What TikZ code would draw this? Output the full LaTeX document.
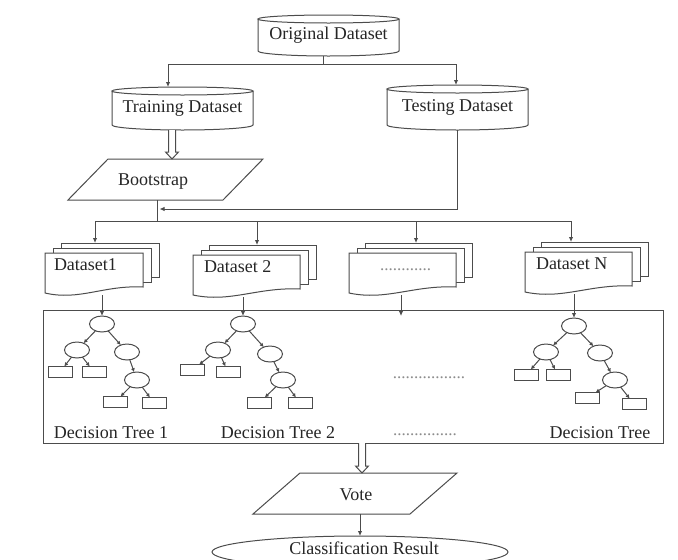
\documentclass[tikz,border=0pt]{standalone}
\usepackage{fontspec}
\setmainfont{Liberation Serif}
\usetikzlibrary{calc,arrows.meta,shapes.geometric}
\newcommand\dbdraw[2]{%
  \draw[line]
    ($(#1.north)+(0,4)$) ellipse [x radius=#2, y radius=4]
    ($(#1.north west)+(0,4)$) -- ($(#1.south west)+(0,-5)$)
    arc[start angle=180, end angle=0, x radius=#2, y radius=5]
    -- ($(#1.north east)+(0,4)$);}
\newcommand\parallelo[2]{%
  \draw[line, fill=white] ($(#1.north west)+(#2,0)$) -- (#1.north east)
    -- ($(#1.south east)+(-#2,0)$) -- (#1.south west) -- cycle;}
\newcommand\docstack[1]{%
  \foreach \k in {2,1} {%
    \draw[line, fill=white] ($(#1.north west)+(8*\k,-5*\k)$) rectangle ($(#1.south east)+(8*\k,-8-5*\k)$);}
  \draw[line, fill=white] (#1.north west) -- (#1.north east) -- ($(#1.south east)+(0,-8)$)
    .. controls ($(#1.south west)!0.6!(#1.south east)+(0,-10)$) and ($(#1.south west)!0.35!(#1.south east)+(0,6)$)
    .. ($(#1.south west)+(0,-2)$) -- cycle;}
\newcommand\hollowarrow[2]{%
  \draw[line, fill=white] let \p1=#1, \p2=#2 in
    (\x1-3.5pt,\y1) -- (\x1-3.5pt,\y2+7pt) -- (\x1-6.5pt,\y2+7pt) -- (\x1,\y2)
    -- (\x1+6.5pt,\y2+7pt) -- (\x1+3.5pt,\y2+7pt) -- (\x1+3.5pt,\y1);}
\begin{document}
\begin{tikzpicture}[x=1pt,y=-1pt,
  line/.style={draw=black!70, line width=1pt},
  arr/.style={line, -{Latex[length=5pt,width=4.5pt]}},
  tarr/.style={line, -{Latex[length=4pt,width=4pt]}},
  lbl/.style={font=\fontsize{18}{21}\selectfont, text=black!85, inner sep=0pt, outer sep=0pt},
  dotlbl/.style={font=\fontsize{17}{20}\selectfont, text=black!45, inner sep=0pt},
  shp/.style={inner sep=0pt, outer sep=0pt},
  tnode/.style={ellipse, line, fill=white, minimum width=25pt, minimum height=16pt, inner sep=0pt, outer sep=0pt},
  leaf/.style={rectangle, line, fill=white, minimum width=24pt, minimum height=11pt, inner sep=0pt, outer sep=0pt}]
\fill[white] (0,0) rectangle (678,560);
\clip (0,0) rectangle (678,560);
\useasboundingbox (0,0) rectangle (678,560);

% cylinders
\node[shp, lbl, minimum width=141pt, minimum height=41pt] (orig) at (328.5,35.5) {Original Dataset};
\dbdraw{orig}{70.5}
\node[shp, lbl, minimum width=141pt, minimum height=43pt] (train) at (182.5,108.5) {Training Dataset};
\dbdraw{train}{70.5}
\node[shp, lbl, minimum width=141pt, minimum height=45pt] (test) at (457.5,107.5) {Testing Dataset};
\dbdraw{test}{70.5}

% bootstrap
\node[shp, minimum width=195pt, minimum height=41pt] (boot) at (165.5,179.5) {};
\parallelo{boot}{40}
\node[lbl] (bootlbl) at (153,182) {Bootstrap};

% top connectors
\coordinate (split) at (323,64);
\coordinate (bl) at (168,64);
\coordinate (br) at (456,64);
\draw[line] (split |- orig.south) -- (split);
\draw[line] (bl) -- (br);
\draw[arr] (bl) -- (bl |- train.north);
\draw[arr] (br) -- (br |- test.north);
\hollowarrow{($(train.south)+(-10.5,0)$)}{(boot.north)}

% datasets
\node[shp, minimum width=98pt, minimum height=42pt] (ds1) at (94,274) {};
\node[shp, minimum width=107pt, minimum height=42pt] (ds2) at (246.5,276) {};
\node[shp, minimum width=107pt, minimum height=42pt] (ds3) at (402.5,274) {};
\node[shp, minimum width=107pt, minimum height=42pt] (dsn) at (578.5,273) {};
\docstack{ds1}
\docstack{ds2}
\docstack{ds3}
\docstack{dsn}
\node[lbl, anchor=west] (ds1lbl) at (54,265) {Dataset1};
\node[lbl, anchor=west] (ds2lbl) at (204,267) {Dataset 2};
\node[dotlbl] (ds3lbl) at (405.5,270) {............};
\node[lbl, anchor=west] (dsnlbl) at (536,264) {Dataset N};

% bus to datasets
\coordinate (j1) at (159.5,209);
\coordinate (j2) at (157,221);
\coordinate (b1) at (95,221);
\coordinate (b2) at (257,221);
\coordinate (b3) at (416,221);
\coordinate (b4) at (571,221);
\coordinate (ds1top) at ($(ds1.north)+(0,-10)$);
\coordinate (ds2top) at ($(ds2.north)+(0,-10)$);
\coordinate (ds3top) at ($(ds3.north)+(0,-10)$);
\coordinate (dsntop) at ($(dsn.north)+(0,-10)$);
\draw[line] (j2 |- boot.south) -- (j2);
\draw[arr] (test.south) |- (j1);
\draw[line] (b1) -- (b4);
\draw[arr] (b1) -- (b1 |- ds1top);
\draw[arr] (b2) -- (b2 |- ds2top);
\draw[arr] (b3) -- (b3 |- ds3top);
\draw[arr] (b4) -- (b4 |- dsntop);

% forest box
\node[shp, line, minimum width=620pt, minimum height=133pt] (forest) at (353,376.5) {};

% tree 1
\node[tnode] (r1) at (102,324) {};
\node[tnode] (l1) at (77,350) {};
\node[tnode] (q1) at (127,352) {};
\node[leaf] (ll1) at (60,372) {};
\node[leaf] (lr1) at (94,372) {};
\node[tnode] (qq1) at (137,380) {};
\node[leaf] (qql1) at (115,402) {};
\node[leaf] (qqr1) at (154,403) {};
% tree 2
\node[tnode] (r2) at (243,324) {};
\node[tnode] (l2) at (218,350) {};
\node[tnode] (q2) at (270,354) {};
\node[leaf] (ll2) at (192,370) {};
\node[leaf] (lr2) at (228,372) {};
\node[tnode] (qq2) at (283,380) {};
\node[leaf] (qql2) at (259,403) {};
\node[leaf] (qqr2) at (300,403) {};
% tree N
\node[tnode] (rn) at (574,326) {};
\node[tnode] (ln) at (546,352) {};
\node[tnode] (qn) at (600,353) {};
\node[leaf] (lln) at (526,375) {};
\node[leaf] (lrn) at (558,375) {};
\node[tnode] (qqn) at (615,380) {};
\node[leaf] (qqln) at (587,398) {};
\node[leaf] (qqrn) at (634,404) {};

\foreach \t in {1,2,n} {
  \draw[tarr] (r\t) -- (l\t);
  \draw[tarr] (r\t) -- (q\t);
  \draw[tarr] (l\t) -- (ll\t);
  \draw[tarr] (l\t) -- (lr\t);
  \draw[tarr] (q\t) -- (qq\t);
  \draw[tarr] (qq\t) -- (qql\t);
  \draw[tarr] (qq\t) -- (qqr\t);
}

% dataset to trees
\coordinate (dotin) at (401,316);
\draw[arr] (r1 |- ds1.south) -- (r1);
\draw[arr] (r2 |- ds2.south) -- (r2);
\draw[arr] (dotin |- ds3.south) -- (dotin);
\draw[arr] (rn |- dsn.south) -- (rn);

% labels in box
\node[lbl] (dt1) at (111,433) {Decision Tree 1};
\node[lbl] (dt2) at (278,433) {Decision Tree 2};
\node[lbl] (dtn) at (600,433) {Decision Tree};
\node[dotlbl] (mdots) at (429,378) {.................};
\node[dotlbl] (ldots) at (425,435) {...............};

% vote
\node[shp, minimum width=204pt, minimum height=41pt] (vote) at (355,493.5) {};
\parallelo{vote}{47}
\node[lbl] (votelbl) at (356,495) {Vote};
\hollowarrow{($(forest.south)+(9,0)$)}{(vote.north)}

% result
\node[ellipse, line, minimum width=296pt, minimum height=32pt, inner sep=0pt, outer sep=0pt] (result) at (360,552) {};
\node[lbl] (resultlbl) at (364,548) {Classification Result};
\draw[arr] (vote.south -| result.north) -- (result.north);
\end{tikzpicture}
\end{document}
